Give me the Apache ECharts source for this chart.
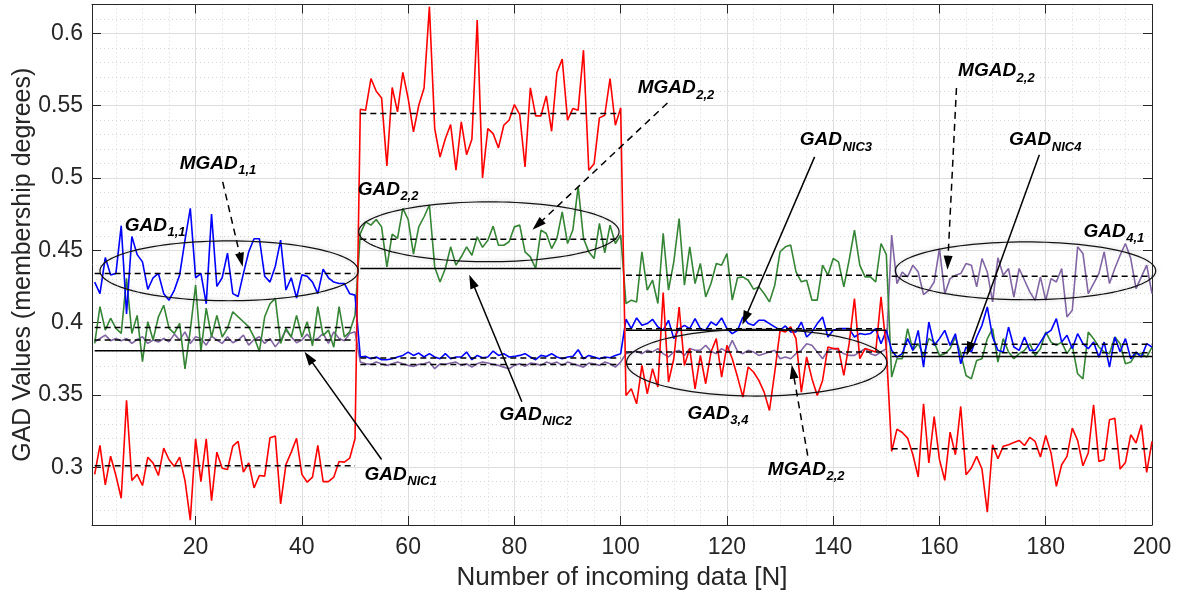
<!DOCTYPE html>
<html>
<head>
<meta charset="utf-8">
<script src="https://cdn.jsdelivr.net/npm/echarts@6/dist/echarts.min.js"></script>
<style>
  html, body { margin: 0; padding: 0; background: #ffffff; }
  #chart { width: 1178px; height: 596px; }
</style>
</head>
<body>
<div id="chart"></div>
<script>
// GAD membership degrees for 200 incoming samples (four phases of 50 samples)
const redValues = [
  0.295, 0.315, 0.2878, 0.3076, 0.2942, 0.2785, 0.3462, 0.2908, 0.295, 0.2873,
  0.3069, 0.3028, 0.2942, 0.3132, 0.3051, 0.3005, 0.3069, 0.2908, 0.2634, 0.3196,
  0.29, 0.3196, 0.2769, 0.3104, 0.2993, 0.2984, 0.3146, 0.3178, 0.2965, 0.303,
  0.2857, 0.2942, 0.2938, 0.3203, 0.3215, 0.2746, 0.3018, 0.3104, 0.32, 0.295,
  0.2896, 0.2931, 0.315, 0.29, 0.29, 0.2931, 0.3039, 0.3035, 0.3062, 0.3196,
  0.5476, 0.5469, 0.5688, 0.560, 0.5554, 0.5083, 0.5626, 0.5457, 0.573, 0.555,
  0.5319, 0.5503, 0.5623, 0.6185, 0.5342, 0.5145, 0.5272, 0.537, 0.5055, 0.5388,
  0.5161, 0.5268, 0.6092, 0.500, 0.5342, 0.5307, 0.5208, 0.5365, 0.54, 0.5508,
  0.5439, 0.5076, 0.5623, 0.543, 0.543, 0.5568, 0.5323, 0.573, 0.5822, 0.54,
  0.548, 0.5469, 0.5884, 0.5053, 0.5099, 0.5416, 0.5434, 0.5688, 0.5365, 0.5485,
  0.3496, 0.3542, 0.3438, 0.3704, 0.3508, 0.3681, 0.3554, 0.4208, 0.3589, 0.375,
  0.4108, 0.3704, 0.382, 0.3542, 0.3773, 0.3577, 0.3796, 0.3889, 0.3623, 0.3843,
  0.375, 0.3623, 0.3485, 0.3693, 0.3658, 0.36, 0.3519, 0.3392, 0.3658, 0.3947,
  0.3935, 0.397, 0.3889, 0.3519, 0.3762, 0.3612, 0.3496, 0.36, 0.3831, 0.382,
  0.382, 0.3635, 0.3854, 0.4166, 0.375, 0.382, 0.3808, 0.3797, 0.4178, 0.382,
  0.3109, 0.3263, 0.324, 0.3201, 0.3086, 0.2932, 0.3438, 0.3029, 0.335, 0.3052,
  0.2909, 0.3242, 0.3086, 0.342, 0.2948, 0.2994, 0.3075, 0.2987, 0.2688, 0.3155,
  0.3058, 0.3144, 0.3155, 0.3171, 0.3185, 0.315, 0.3206, 0.3178, 0.307, 0.3219,
  0.3098, 0.2868, 0.3017, 0.3075, 0.327, 0.3185, 0.301, 0.3098, 0.3431, 0.304,
  0.3052, 0.3328, 0.3339, 0.2987, 0.3033, 0.3224, 0.3167, 0.3293, 0.2964, 0.3178
];

const blueValues = [
  0.428, 0.420, 0.445, 0.433, 0.434, 0.467, 0.406, 0.4595, 0.447, 0.442,
  0.423, 0.431, 0.434, 0.420, 0.4155, 0.4225, 0.433, 0.457, 0.479, 0.431,
  0.434, 0.413, 0.475, 0.425, 0.431, 0.448, 0.420, 0.418, 0.434, 0.449,
  0.458, 0.458, 0.432, 0.428, 0.439, 0.457, 0.4225, 0.431, 0.417, 0.433,
  0.432, 0.428, 0.420, 0.437, 0.431, 0.428, 0.427, 0.427, 0.420, 0.419,
  0.3762, 0.3766, 0.375, 0.3762, 0.3743, 0.3743, 0.375, 0.3762, 0.3773, 0.3796,
  0.3773, 0.3789, 0.3762, 0.3785, 0.3762, 0.375, 0.3785, 0.375, 0.3762, 0.3762,
  0.3796, 0.3743, 0.3773, 0.3757, 0.3762, 0.3803, 0.3773, 0.3785, 0.3762, 0.3766,
  0.3773, 0.3785, 0.3762, 0.3743, 0.3773, 0.3766, 0.3785, 0.3762, 0.375, 0.3762,
  0.3766, 0.3812, 0.375, 0.3773, 0.3762, 0.375, 0.3762, 0.3757, 0.3773, 0.3785,
  0.4023, 0.3958, 0.4032, 0.3981, 0.3993, 0.4023, 0.397, 0.3947, 0.4016, 0.3889,
  0.3958, 0.3981, 0.3958, 0.4028, 0.3958, 0.3947, 0.4004, 0.3981, 0.4032, 0.3958,
  0.3924, 0.3947, 0.4039, 0.3993, 0.3981, 0.4016, 0.4016, 0.3993, 0.397, 0.3947,
  0.3977, 0.3935, 0.3935, 0.4004, 0.39, 0.3935, 0.3993, 0.4039, 0.39, 0.3947,
  0.3958, 0.3958, 0.3958, 0.39, 0.3924, 0.3917, 0.3924, 0.3958, 0.3854, 0.3947,
  0.3808, 0.3761, 0.3785, 0.3889, 0.3808, 0.3946, 0.3692, 0.4004, 0.3842, 0.3889,
  0.3946, 0.3842, 0.3923, 0.3715, 0.3831, 0.3796, 0.39, 0.3981, 0.4108, 0.39,
  0.3808, 0.3796, 0.3969, 0.3831, 0.3808, 0.39, 0.3808, 0.3808, 0.3865, 0.3923,
  0.3946, 0.4027, 0.3865, 0.3912, 0.3819, 0.3923, 0.3854, 0.3819, 0.3865, 0.3761,
  0.3865, 0.3692, 0.39, 0.3796, 0.3889, 0.375, 0.3796, 0.3761, 0.3854, 0.3831
];

const greenValues = [
  0.3856, 0.411, 0.3948, 0.403, 0.396, 0.3925, 0.4306, 0.3925, 0.405, 0.373,
  0.4006, 0.388, 0.404, 0.412, 0.396, 0.3925, 0.3995, 0.368, 0.3948, 0.426,
  0.380, 0.410, 0.390, 0.405, 0.390, 0.396, 0.4075, 0.404, 0.4006, 0.397,
  0.390, 0.380, 0.404, 0.413, 0.4167, 0.3856, 0.396, 0.390, 0.405, 0.390,
  0.4006, 0.384, 0.411, 0.391, 0.3948, 0.383, 0.411, 0.390, 0.3936, 0.405,
  0.4616, 0.4697, 0.4674, 0.4713, 0.4662, 0.4385, 0.4612, 0.4582, 0.479, 0.4713,
  0.4473, 0.4662, 0.4732, 0.4813, 0.4385, 0.4281, 0.4374, 0.4524, 0.4397, 0.4455,
  0.4524, 0.4466, 0.4593, 0.452, 0.457, 0.4667, 0.4535, 0.4535, 0.4559, 0.4662,
  0.4674, 0.4489, 0.4455, 0.4374, 0.464, 0.4616, 0.4512, 0.4582, 0.4766, 0.4547,
  0.464, 0.494, 0.4582, 0.4489, 0.4443, 0.4686, 0.4482, 0.4674, 0.4547, 0.4605,
  0.4132, 0.4155, 0.4143, 0.449, 0.4224, 0.4293, 0.4132, 0.4617, 0.4224, 0.442,
  0.472, 0.4259, 0.4524, 0.427, 0.4409, 0.4178, 0.427, 0.4409, 0.4397, 0.4478,
  0.4155, 0.431, 0.4316, 0.4293, 0.4231, 0.4247, 0.4201, 0.4143, 0.4259, 0.449,
  0.4524, 0.4536, 0.4351, 0.4282, 0.4293, 0.4155, 0.4155, 0.4397, 0.4328, 0.4443,
  0.442, 0.4247, 0.4432, 0.464, 0.4397, 0.4316, 0.4316, 0.4282, 0.4547, 0.447,
  0.3623, 0.375, 0.375, 0.3958, 0.3808, 0.3854, 0.3773, 0.3889, 0.3865, 0.3773,
  0.3785, 0.3819, 0.39, 0.3785, 0.3634, 0.3611, 0.3738, 0.375, 0.3889, 0.3958,
  0.3727, 0.3889, 0.3796, 0.375, 0.3785, 0.3808, 0.3854, 0.3773, 0.3819, 0.3935,
  0.3865, 0.3842, 0.3865, 0.3785, 0.3842, 0.3646, 0.3611, 0.3935, 0.3889, 0.3831,
  0.3796, 0.3785, 0.39, 0.3854, 0.3715, 0.3727, 0.3785, 0.3785, 0.3761, 0.3831
];

const purpleValues = [
  0.3867, 0.389, 0.3913, 0.3874, 0.389, 0.3874, 0.389, 0.3856, 0.3883, 0.3902,
  0.3856, 0.3879, 0.3865, 0.389, 0.3867, 0.392, 0.3879, 0.3936, 0.3856, 0.3902,
  0.389, 0.3844, 0.3906, 0.3879, 0.3856, 0.3902, 0.386, 0.3879, 0.3913, 0.3844,
  0.3883, 0.3902, 0.3856, 0.389, 0.3832, 0.3879, 0.3948, 0.3902, 0.386, 0.3879,
  0.392, 0.3874, 0.389, 0.3925, 0.3856, 0.3936, 0.389, 0.3874, 0.3925, 0.3936,
  0.3727, 0.3715, 0.3711, 0.3727, 0.3715, 0.3704, 0.3715, 0.3727, 0.3715, 0.3704,
  0.3697, 0.3711, 0.3715, 0.3727, 0.3681, 0.3715, 0.3711, 0.372, 0.3727, 0.3704,
  0.3715, 0.3692, 0.3715, 0.3727, 0.372, 0.3711, 0.3704, 0.3692, 0.3681, 0.3704,
  0.3715, 0.3697, 0.372, 0.3715, 0.3704, 0.3727, 0.3715, 0.3727, 0.3704, 0.3727,
  0.3715, 0.3704, 0.3692, 0.372, 0.3715, 0.3704, 0.3727, 0.3715, 0.3692, 0.3727,
  0.3785, 0.3797, 0.3801, 0.3785, 0.3808, 0.3797, 0.382, 0.3785, 0.3762, 0.3797,
  0.3808, 0.3773, 0.382, 0.3808, 0.3808, 0.3843, 0.3801, 0.3785, 0.382, 0.3797,
  0.3877, 0.3801, 0.3785, 0.3808, 0.3797, 0.3773, 0.3785, 0.3797, 0.3808, 0.375,
  0.3762, 0.375, 0.3785, 0.3808, 0.3854, 0.3843, 0.3797, 0.375, 0.3808, 0.382,
  0.3808, 0.3785, 0.3773, 0.3773, 0.3797, 0.382, 0.3785, 0.3773, 0.3797, 0.382,
  0.4605, 0.427, 0.435, 0.4316, 0.4397, 0.435, 0.4193, 0.4223, 0.4281, 0.4512,
  0.42, 0.4304, 0.4327, 0.4339, 0.4408, 0.4397, 0.4247, 0.4443, 0.435, 0.4143,
  0.4448, 0.4327, 0.4374, 0.4177, 0.4374, 0.4293, 0.4212, 0.4154, 0.4316, 0.4154,
  0.4304, 0.4281, 0.4374, 0.4039, 0.4085, 0.4524, 0.4478, 0.42, 0.427, 0.4339,
  0.4489, 0.427, 0.4374, 0.4466, 0.4547, 0.4443, 0.4235, 0.4316, 0.4397, 0.42
];

// Phases of the experiment and the per-phase reference levels
const phaseRanges = [[1, 50], [51, 100], [101, 150], [151, 200]];
const meanRed    = [0.301, 0.5446, 0.3711, 0.3127];
const meanBlue   = [0.434, 0.3755, 0.3958, 0.385];
const meanGreen  = [0.3966, 0.4577, 0.4328, 0.3791];
const meanPurple = [0.388, 0.371, 0.3797, 0.432];
const nicLevels  = [0.3806, 0.4374, 0.3947, 0.3766];

// Axis ticks
const xTicks = [20, 40, 60, 80, 100, 120, 140, 160, 180, 200];
const xMinorTicks = [5, 10, 15, 25, 30, 35, 45, 50, 55, 65, 70, 75, 85, 90, 95, 105, 110, 115,
  125, 130, 135, 145, 150, 155, 165, 170, 175, 185, 190, 195];
const yTicks = [0.3, 0.35, 0.4, 0.45, 0.5, 0.55, 0.6];
const yMinorTicks = [0.27, 0.28, 0.29, 0.31, 0.32, 0.33, 0.34, 0.36, 0.37, 0.38, 0.39,
  0.41, 0.42, 0.43, 0.44, 0.46, 0.47, 0.48, 0.49, 0.51, 0.52, 0.53, 0.54,
  0.56, 0.57, 0.58, 0.59, 0.61];

// Callout groupings and labels (placed in data coordinates)
const ellipses = [
  { center: [26.3, 0.4358], rx: 24.3, ry: 0.0207 },
  { center: [75.2, 0.4628], rx: 24.5, ry: 0.0207 },
  { center: [125.6, 0.3723], rx: 24.5, ry: 0.0231 },
  { center: [176.2, 0.4358], rx: 24.5, ry: 0.0200 }
];

const annotations = [
  { main: 'MGAD', sub: '1,1',  at: [17.0, 0.5098], from: [25.1, 0.4973], to: [28.86, 0.4386], dashed: true },
  { main: 'GAD',  sub: '1,1',  at: [6.65, 0.4669] },
  { main: 'GAD',  sub: 'NIC1', at: [51.8, 0.2948], from: [55.0, 0.3053], to: [40.5, 0.3799], dashed: false },
  { main: 'GAD',  sub: '2,2',  at: [50.5, 0.4918] },
  { main: 'GAD',  sub: 'NIC2', at: [77.2, 0.3363], from: [81.4, 0.3453], to: [71.5, 0.4331], dashed: false },
  { main: 'MGAD', sub: '2,2',  at: [103.2, 0.5623], from: [108.8, 0.5519], to: [83.4, 0.4642], dashed: true },
  { main: 'GAD',  sub: 'NIC3', at: [133.7, 0.5263], from: [136.5, 0.5146], to: [122.9, 0.3985], dashed: false },
  { main: 'GAD',  sub: '3,4',  at: [112.6, 0.337] },
  { main: 'MGAD', sub: '2,2',  at: [127.7, 0.2983], from: [135.2, 0.3080], to: [132.2, 0.3709], dashed: true },
  { main: 'MGAD', sub: '2,2',  at: [163.5, 0.574], from: [163.2, 0.5623], to: [161.5, 0.4365], dashed: true },
  { main: 'GAD',  sub: 'NIC4', at: [173.1, 0.5263], from: [178.8, 0.516], to: [165.1, 0.3771], dashed: false },
  { main: 'GAD',  sub: '4,1',  at: [187.1, 0.4628] }
];

const FONT = '"Liberation Sans", Arial, Helvetica, sans-serif';
const AXIS_COLOR = '#262626';
const MAIN_FONT = 'italic bold 19px ' + FONT;
const SUB_FONT = 'italic bold 13px ' + FONT;

const measureCtx = document.createElement('canvas').getContext('2d');
function textWidth(text, font) {
  measureCtx.font = font;
  return measureCtx.measureText(text).width;
}

function toPoints(values) {
  return values.map((v, i) => [i + 1, v]);
}

function dataSeries(name, values, color) {
  return {
    name: name, type: 'line', data: toPoints(values),
    showSymbol: false, symbol: 'none', silent: true, z: 3,
    lineStyle: { color: color, width: 1.6 }
  };
}

function levelSeries(levels, dashed) {
  return levels.map((v, k) => ({
    type: 'line', silent: true, symbol: 'none', z: 5,
    data: [[phaseRanges[k][0], v], [phaseRanges[k][1], v]],
    lineStyle: { color: '#000000', width: 1.5, type: dashed ? [6, 4] : 'solid' }
  }));
}

function renderEllipse(params, api) {
  const e = ellipses[params.dataIndex];
  const c = api.coord(e.center);
  const s = api.size([e.rx, e.ry]);
  const pts = [];
  for (let i = 0; i < 120; i++) {
    const t = i / 120 * Math.PI * 2;
    pts.push([c[0] + s[0] * Math.cos(t), c[1] + s[1] * Math.sin(t)]);
  }
  return {
    type: 'polygon',
    shape: { points: pts },
    style: { fill: null, stroke: '#111111', lineWidth: 1.2, shadowBlur: 5, shadowColor: 'rgba(0,0,0,0.28)' }
  };
}

function renderAnnotation(params, api) {
  const a = annotations[params.dataIndex];
  const p = api.coord(a.at);
  const children = [];
  if (a.from) {
    const s = api.coord(a.from);
    const e = api.coord(a.to);
    const dx = e[0] - s[0], dy = e[1] - s[1];
    const len = Math.hypot(dx, dy);
    const ux = dx / len, uy = dy / len;
    const headLen = 14, headHalf = 4.5;
    const bx = e[0] - ux * headLen, by = e[1] - uy * headLen;
    children.push({
      type: 'line',
      shape: { x1: s[0], y1: s[1], x2: bx + ux * 2, y2: by + uy * 2 },
      style: { stroke: '#000000', lineWidth: 1.5, lineDash: a.dashed ? [7, 5] : null }
    });
    children.push({
      type: 'polygon',
      shape: { points: [[e[0], e[1]], [bx - uy * headHalf, by + ux * headHalf], [bx + uy * headHalf, by - ux * headHalf]] },
      style: { fill: '#000000' }
    });
  }
  const w = textWidth(a.main, MAIN_FONT);
  children.push({
    type: 'text', x: p[0], y: p[1],
    style: { text: a.main, font: MAIN_FONT, fill: '#000000', align: 'left', verticalAlign: 'middle' }
  });
  children.push({
    type: 'text', x: p[0] + w + 0.5, y: p[1] + 7,
    style: { text: a.sub, font: SUB_FONT, fill: '#000000', align: 'left', verticalAlign: 'middle' }
  });
  return { type: 'group', children: children };
}

const chart = echarts.init(document.getElementById('chart'), null, { renderer: 'canvas' });

const gridBox = { left: 92, right: 26, top: 4.5, bottom: 71 };

const xBase = { type: 'value', min: 0.5, max: 200, gridIndex: 0 };
const yBase = { type: 'value', min: 0.26, max: 0.62, gridIndex: 0 };

const option = {
  animation: false,
  backgroundColor: '#ffffff',
  grid: Object.assign({ containLabel: false, outerBoundsMode: 'none', show: false }, gridBox),
  xAxis: [
    Object.assign({}, xBase, {
      position: 'bottom',
      name: 'Number of incoming data [N]', nameLocation: 'middle', nameGap: 40, nameMoveOverlap: false,
      nameTextStyle: { fontFamily: FONT, fontSize: 26, color: AXIS_COLOR },
      axisLine: { show: true, onZero: false, lineStyle: { color: AXIS_COLOR, width: 1 } },
      axisTick: { show: true, inside: true, length: 9, customValues: xTicks, lineStyle: { color: AXIS_COLOR } },
      axisLabel: { show: true, customValues: xTicks, margin: 11, fontFamily: FONT, fontSize: 23, color: AXIS_COLOR },
      splitLine: { show: true, lineStyle: { color: '#dedede', width: 1 } }
    }),
    Object.assign({}, xBase, {
      position: 'top',
      axisLine: { show: true, onZero: false, lineStyle: { color: AXIS_COLOR, width: 1 } },
      axisTick: { show: true, inside: true, length: 9, customValues: xTicks, lineStyle: { color: AXIS_COLOR } },
      axisLabel: { show: false },
      splitLine: { show: false }
    }),
    Object.assign({}, xBase, {
      position: 'bottom',
      axisLine: { show: false },
      axisTick: { show: false, customValues: xMinorTicks },
      axisLabel: { show: false, customValues: xMinorTicks },
      splitLine: { show: true, lineStyle: { color: '#d6d6d6', width: 1, type: [1, 3] } }
    })
  ],
  yAxis: [
    Object.assign({}, yBase, {
      position: 'left',
      name: 'GAD Values (membership degrees)', nameLocation: 'middle', nameGap: 56, nameRotate: 90,
      nameMoveOverlap: false,
      nameTextStyle: { fontFamily: FONT, fontSize: 25, color: AXIS_COLOR },
      axisLine: { show: true, onZero: false, lineStyle: { color: AXIS_COLOR, width: 1 } },
      axisTick: { show: true, inside: true, length: 9, customValues: yTicks, lineStyle: { color: AXIS_COLOR } },
      axisLabel: { show: true, customValues: yTicks, margin: 9, fontFamily: FONT, fontSize: 23, color: AXIS_COLOR },
      splitLine: { show: true, lineStyle: { color: '#dedede', width: 1 } }
    }),
    Object.assign({}, yBase, {
      position: 'right',
      axisLine: { show: true, onZero: false, lineStyle: { color: AXIS_COLOR, width: 1 } },
      axisTick: { show: true, inside: true, length: 9, customValues: yTicks, lineStyle: { color: AXIS_COLOR } },
      axisLabel: { show: false },
      splitLine: { show: false }
    }),
    Object.assign({}, yBase, {
      position: 'left',
      axisLine: { show: false },
      axisTick: { show: false, customValues: yMinorTicks },
      axisLabel: { show: false, customValues: yMinorTicks },
      splitLine: { show: true, lineStyle: { color: '#d6d6d6', width: 1, type: [1, 3] } }
    })
  ],
  series: [
    dataSeries('GAD purple', purpleValues, '#8266a3'),
    dataSeries('GAD green', greenValues, '#368436'),
    dataSeries('GAD blue', blueValues, '#0000ff'),
    dataSeries('GAD red', redValues, '#ff0000'),
    ...levelSeries(meanRed, true),
    ...levelSeries(meanBlue, true),
    ...levelSeries(meanGreen, true),
    ...levelSeries(meanPurple, true),
    ...levelSeries(nicLevels, false),
    {
      type: 'custom', silent: true, z: 6, clip: false,
      data: ellipses.map(e => e.center),
      renderItem: renderEllipse
    },
    {
      type: 'custom', silent: true, z: 7, clip: false,
      data: annotations.map(a => a.at),
      renderItem: renderAnnotation
    }
  ]
};

chart.setOption(option);
</script>
</body>
</html>
